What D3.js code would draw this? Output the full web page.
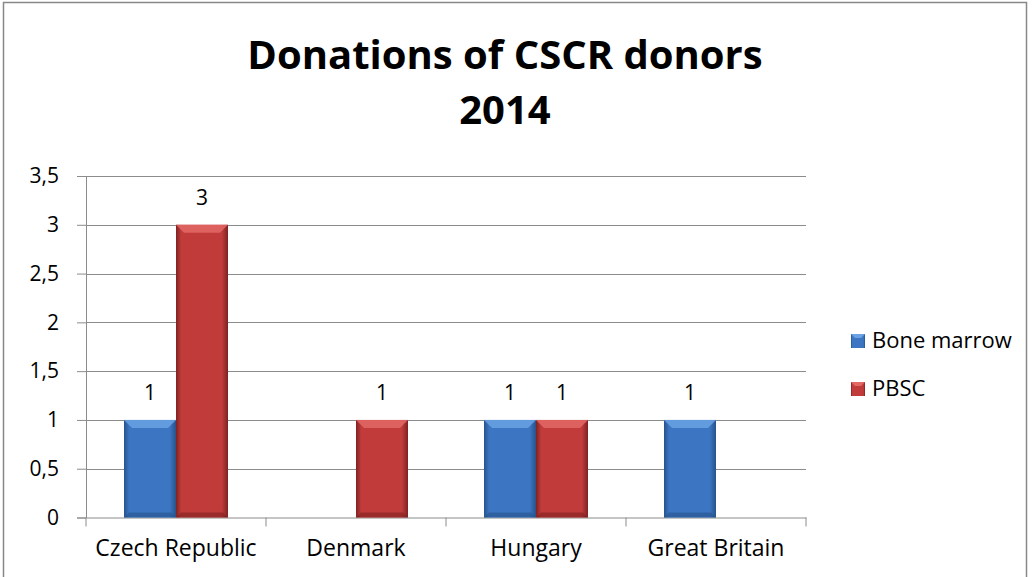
<!DOCTYPE html>
<html>
<head>
<meta charset="utf-8">
<script src="https://cdn.jsdelivr.net/npm/d3@7"></script>
<style>
body { margin: 0; background: #fff; }
text { font-family: "Open Sans", "Noto Sans", sans-serif; }
</style>
</head>
<body>
<script>
var categories = ["Czech Republic", "Denmark", "Hungary", "Great Britain"],
    seriesNames = ["Bone marrow", "PBSC"],
    boneMarrow = [1, 0, 1, 1],
    pbsc = [3, 1, 1, 0],
    yTicks = [0, 0.5, 1, 1.5, 2, 2.5, 3, 3.5],
    titleLines = ["Donations of CSCR donors", "2014"];

var W = 1032, H = 577;
var margin = {top: 176, left: 86};
var width = 806 - 86, height = 517.5 - 176;

var svg = d3.select("body").append("svg")
    .attr("width", W)
    .attr("height", H);

// gradients for the bevelled bars
var defs = svg.append("defs");
var colors = [
    {id: "gBlue", edge: "#27538c", mid: "#3c76c2", top: "#6aa2e4"},
    {id: "gRed", edge: "#7e2222", mid: "#c23b3b", top: "#e26866"}
];
colors.forEach(function(c) {
    var g = defs.append("linearGradient").attr("id", c.id)
        .attr("x1", 0).attr("x2", 1).attr("y1", 0).attr("y2", 0);
    g.append("stop").attr("offset", "0%").attr("stop-color", c.edge);
    g.append("stop").attr("offset", "10%").attr("stop-color", c.mid);
    g.append("stop").attr("offset", "88%").attr("stop-color", c.mid);
    g.append("stop").attr("offset", "100%").attr("stop-color", c.edge);
});

// outer border
svg.append("rect")
    .attr("x", 3.5).attr("y", 2.5)
    .attr("width", 1023).attr("height", 590)
    .attr("fill", "none").attr("stroke", "#888").attr("stroke-width", 1.5);

// title
svg.append("g").selectAll("text")
    .data(titleLines)
    .enter().append("text")
    .attr("x", 505)
    .attr("y", function(d, i) { return 69 + i * 55; })
    .attr("text-anchor", "middle")
    .attr("font-size", 40)
    .attr("font-weight", "bold")
    .attr("fill", "#000")
    .text(function(d) { return d; });

var g = svg.append("g")
    .attr("transform", "translate(" + margin.left + "," + margin.top + ")");

var x0 = d3.scaleBand().domain(categories).range([0, width]);
var x1 = d3.scaleBand().domain(seriesNames).range([38, x0.bandwidth() - 38]);
var y = d3.scaleLinear().domain([0, 3.5]).range([height, 0]);

// gridlines
g.append("g").selectAll("line")
    .data(yTicks.slice(1))
    .enter().append("line")
    .attr("x1", 0).attr("x2", width)
    .attr("y1", function(d) { return Math.round(y(d)) + 0.5; })
    .attr("y2", function(d) { return Math.round(y(d)) + 0.5; })
    .attr("stroke", "#8c8c8c").attr("stroke-width", 1);

// y axis
var yAxis = g.append("g")
    .call(d3.axisLeft(y).tickValues(yTicks).tickSize(9).tickPadding(18)
        .tickFormat(function(d) { return String(d).replace(".", ","); }));
yAxis.select(".domain").attr("stroke", "#8c8c8c");
yAxis.selectAll(".tick line").attr("stroke", "#8c8c8c");
yAxis.selectAll("text").attr("font-size", 21).attr("fill", "#000")
    .attr("font-family", "Open Sans, sans-serif");

// x axis
var xAxis = g.append("g")
    .attr("transform", "translate(0," + height + ")")
    .call(d3.axisBottom(x0).tickSize(0).tickPadding(22));
xAxis.select(".domain").attr("stroke", "#8c8c8c");
xAxis.selectAll("text").attr("font-size", 23).attr("fill", "#000")
    .attr("font-family", "Open Sans, sans-serif");
xAxis.append("g").selectAll("line")
    .data(d3.range(categories.length + 1))
    .enter().append("line")
    .attr("x1", function(d) { return d * x0.bandwidth(); })
    .attr("x2", function(d) { return d * x0.bandwidth(); })
    .attr("y1", 0).attr("y2", 9)
    .attr("stroke", "#8c8c8c");

// bars
var rows = categories.map(function(c, i) {
    return {cat: c, values: [
        {name: seriesNames[0], v: boneMarrow[i], fill: "url(#gBlue)", top: colors[0].top, edge: colors[0].edge},
        {name: seriesNames[1], v: pbsc[i], fill: "url(#gRed)", top: colors[1].top, edge: colors[1].edge}
    ]};
});

var groups = g.selectAll(".cat")
    .data(rows)
    .enter().append("g")
    .attr("class", "cat")
    .attr("transform", function(d) { return "translate(" + x0(d.cat) + ",0)"; });

var bars = groups.selectAll(".bar")
    .data(function(d) { return d.values.filter(function(v) { return v.v > 0; }); })
    .enter().append("g").attr("class", "bar");

bars.append("rect")
    .attr("x", function(d) { return x1(d.name); })
    .attr("y", function(d) { return y(d.v); })
    .attr("width", x1.bandwidth())
    .attr("height", function(d) { return height - y(d.v); })
    .attr("fill", function(d) { return d.fill; });

// top bevel
bars.append("path")
    .attr("d", function(d) {
        var bx = x1(d.name), by = y(d.v), bw = x1.bandwidth();
        return "M" + bx + "," + by + "h" + bw + "l-8,8h" + (-(bw - 16)) + "z";
    })
    .attr("fill", function(d) { return d.top; })
    .attr("opacity", 0.85);

// bottom bevel
bars.append("path")
    .attr("d", function(d) {
        var bx = x1(d.name), bw = x1.bandwidth();
        return "M" + bx + "," + height + "h" + bw + "l-5,-5h" + (-(bw - 10)) + "z";
    })
    .attr("fill", function(d) { return d.edge; })
    .attr("opacity", 0.6);

// labels
bars.append("text")
    .attr("x", function(d) { return x1(d.name) + x1.bandwidth() / 2; })
    .attr("y", function(d) { return y(d.v) - 20; })
    .attr("text-anchor", "middle")
    .attr("font-size", 21)
    .attr("fill", "#000")
    .text(function(d) { return d.v; });

// legend
var legend = svg.append("g").selectAll("g")
    .data(seriesNames)
    .enter().append("g")
    .attr("transform", function(d, i) { return "translate(851," + (334 + i * 48) + ")"; });
legend.append("rect")
    .attr("width", 14).attr("height", 14)
    .attr("fill", function(d, i) { return i === 0 ? "url(#gBlue)" : "url(#gRed)"; });
legend.append("path")
    .attr("d", "M0,0h14l-4,4h-6z")
    .attr("fill", function(d, i) { return colors[i].top; });
legend.append("text")
    .attr("x", 21).attr("y", 14)
    .attr("font-size", 22).attr("fill", "#000")
    .text(function(d) { return d; });
</script>
</body>
</html>
